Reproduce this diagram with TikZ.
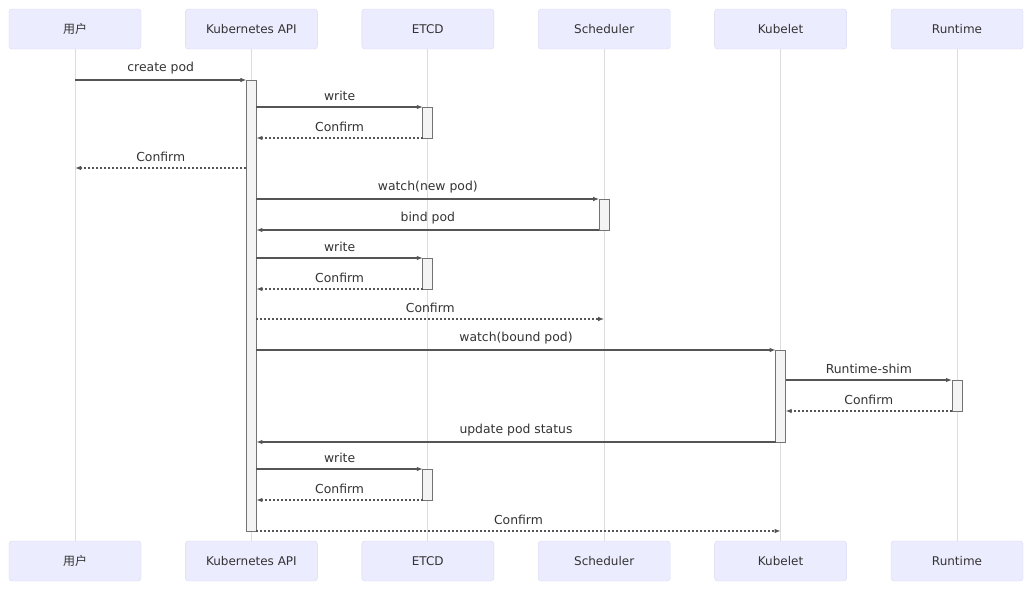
\documentclass[tikz,border=0pt]{standalone}
\usepackage{fontspec}
\setmainfont{DejaVu Sans}
\newfontfamily\cjkfont{Noto Sans CJK SC}
\usepackage{xcolor}
\usetikzlibrary{arrows.meta, positioning}
\definecolor{actorfill}{HTML}{ECECFF}
\definecolor{actorline}{HTML}{D8D8F4}
\definecolor{lifegray}{HTML}{DDDDDD}
\definecolor{msggray}{HTML}{555555}
\definecolor{textgray}{HTML}{333333}
\definecolor{barfill}{HTML}{F4F4F4}

\begin{document}
\begin{tikzpicture}[
  x=1pt, y=-1pt,
  actor/.style={draw=actorline, fill=actorfill, rounded corners=3pt, minimum width=132pt, minimum height=40pt, font=\fontsize{12}{14}\selectfont, text=textgray},
  life/.style={draw=lifegray, line width=0.9pt},
  bar/.style={draw=black!55, fill=barfill, minimum width=10pt, inner sep=0pt, outer sep=0pt, line width=0.8pt},
  msg/.style={draw=msggray, line width=1.1pt, -{Latex[length=6pt,width=4.5pt]}},
  reply/.style={msg, dash pattern=on 2pt off 2pt},
  lbl/.style={above=2.5pt, midway, font=\fontsize{12.4}{14}\selectfont, text=textgray},
]
\useasboundingbox (0,0) rectangle (1032,592);

% Actors
\node[actor] (user) at (75,29) {\cjkfont 用户};
\node[actor, right=44pt of user] (api) {Kubernetes API};
\node[actor, right=44pt of api] (etcd) {ETCD};
\node[actor, right=44pt of etcd] (sched) {Scheduler};
\node[actor, right=44pt of sched] (kubelet) {Kubelet};
\node[actor, right=44pt of kubelet] (runtime) {Runtime};

\node[actor] (user2) at (75,561) {\cjkfont 用户};
\node[actor, right=44pt of user2] (api2) {Kubernetes API};
\node[actor, right=44pt of api2] (etcd2) {ETCD};
\node[actor, right=44pt of etcd2] (sched2) {Scheduler};
\node[actor, right=44pt of sched2] (kubelet2) {Kubelet};
\node[actor, right=44pt of kubelet2] (runtime2) {Runtime};

% Lifelines
\draw[life] (user) -- (user2);
\draw[life] (api) -- (api2);
\draw[life] (etcd) -- (etcd2);
\draw[life] (sched) -- (sched2);
\draw[life] (kubelet) -- (kubelet2);
\draw[life] (runtime) -- (runtime2);

% Activations
\node[bar, minimum height=451pt] (apibar) at (api |- 0,305.5) {};
\node[bar, minimum height=31pt] (etcdA) at (etcd |- 0,122.5) {};
\node[bar, minimum height=31pt] (schedbar) at (sched |- 0,214.5) {};
\node[bar, minimum height=31pt] (etcdB) at (etcd |- 0,273.5) {};
\node[bar, minimum height=92pt] (kubebar) at (kubelet |- 0,396) {};
\node[bar, minimum height=31pt] (rtbar) at (runtime |- 0,395.5) {};
\node[bar, minimum height=31pt] (etcdC) at (etcd |- 0,484.5) {};

% Free ends
\coordinate (back1) at (user |- 0,168);
\coordinate (back2) at (sched |- 0,319);
\coordinate (back3) at (kubelet |- 0,531);

% Messages
\draw[msg] (user |- apibar.north) -- (apibar.north west) node[lbl] {create pod};
\draw[msg] (apibar.east |- etcdA.north) -- (etcdA.north west) node[lbl] {write};
\draw[reply] (etcdA.south west) -- (apibar.east |- etcdA.south) node[lbl] {Confirm};
\draw[reply] (apibar.west |- back1) -- (back1) node[lbl] {Confirm};
\draw[msg] (apibar.east |- schedbar.north) -- (schedbar.north west) node[lbl] {watch(new pod)};
\draw[msg] (schedbar.south west) -- (apibar.east |- schedbar.south) node[lbl] {bind pod};
\draw[msg] (apibar.east |- etcdB.north) -- (etcdB.north west) node[lbl] {write};
\draw[reply] (etcdB.south west) -- (apibar.east |- etcdB.south) node[lbl] {Confirm};
\draw[reply] (apibar.east |- back2) -- (back2) node[lbl] {Confirm};
\draw[msg] (apibar.east |- kubebar.north) -- (kubebar.north west) node[lbl] {watch(bound pod)};
\draw[msg] (kubebar.east |- rtbar.north) -- (rtbar.north west) node[lbl] {Runtime-shim};
\draw[reply] (rtbar.south west) -- (kubebar.east |- rtbar.south) node[lbl] {Confirm};
\draw[msg] (kubebar.south west) -- (apibar.east |- kubebar.south) node[lbl] {update pod status};
\draw[msg] (apibar.east |- etcdC.north) -- (etcdC.north west) node[lbl] {write};
\draw[reply] (etcdC.south west) -- (apibar.east |- etcdC.south) node[lbl] {Confirm};
\draw[reply] (apibar.east |- back3) -- (back3) node[lbl] {Confirm};

\end{tikzpicture}
\end{document}
